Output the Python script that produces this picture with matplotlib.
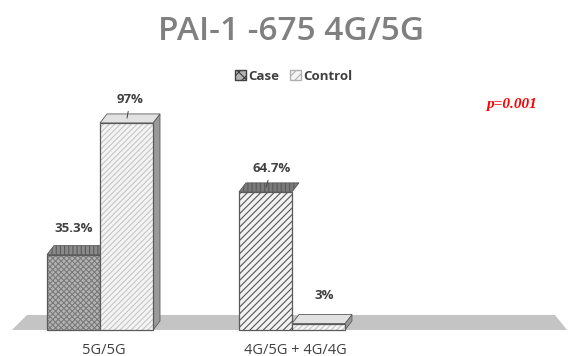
import numpy as np
import matplotlib
matplotlib.use('Agg')
import matplotlib.pyplot as plt
from matplotlib.patches import Polygon, Patch

categories = ['5G/5G', '4G/5G + 4G/4G']
case_vals = [35.3, 64.7]
control_vals = [97, 3]
case_labels = ['35.3%', '64.7%']
control_labels = ['97%', '3%']
p_text = 'p=0.001'

plt.rcParams['font.family'] = ['Open Sans', 'DejaVu Sans']
plt.rcParams['hatch.linewidth'] = 0.8

W, H = 569, 356
fig = plt.figure(figsize=(W / 100, H / 100), dpi=100)
ax = fig.add_axes([0, 0, 1, 1])
xlim = (-0.521, 2.443)
ylim = (-12.2, 154.6)
ax.set_xlim(*xlim)
ax.set_ylim(*ylim)
ax.axis('off')

# pixel -> data unit helpers for the 3d look
px_x = (xlim[1] - xlim[0]) / W
px_y = (ylim[1] - ylim[0]) / H
dx, dy = 7 * px_x, 9 * px_y

# floor
floor = Polygon([(xlim[0] + 12 * px_x, 0), (xlim[1] - 2 * px_x, 0),
                 (xlim[1] - 14 * px_x, 15 * px_y), (xlim[0] + 27 * px_x, 15 * px_y)],
                closed=True, facecolor='#c4c4c4', edgecolor='none', zorder=1)
ax.add_patch(floor)

x = np.arange(len(categories))
w = 0.276

case_styles = [
    dict(face='#b4b4b4', hatch='xxxxxx', hcol='#7a7a7a', top='#8a8a8a', thatch='||||'),
    dict(face='#f2f2f2', hatch='/////', hcol='#555555', top='#7a7a7a', thatch='||||'),
]
ctrl_style = dict(face='#f4f4f4', hatch='//////', hcol='#c6c6c6', top='#e2e2e2',
                  side='#9a9a9a', thatch=None)


def bar3d(xc, h, st, z, side=True):
    x0, x1 = xc, xc + w
    # front face: fill + hatch, then outline
    ax.bar(x0, h, w, align='edge', color=st['face'], edgecolor=st['hcol'],
           hatch=st['hatch'], linewidth=0, zorder=z)
    ax.bar(x0, h, w, align='edge', fill=False, edgecolor='#5a5a5a',
           linewidth=0.9, zorder=z + 0.1)
    top = Polygon([(x0, h), (x1, h), (x1 + dx, h + dy), (x0 + dx, h + dy)],
                  closed=True, facecolor=st['top'], edgecolor='#5a5a5a',
                  hatch=st['thatch'], linewidth=0.6, zorder=z)
    ax.add_patch(top)
    if side:
        sd = Polygon([(x1, 0), (x1 + dx, dy), (x1 + dx, h + dy), (x1, h)],
                     closed=True, facecolor=st.get('side', '#888888'),
                     edgecolor='#5a5a5a', linewidth=0.6, zorder=z - 0.2)
        ax.add_patch(sd)


for i in range(len(categories)):
    bar3d(x[i] - w, case_vals[i], case_styles[i], 3, side=False)
    bar3d(x[i], control_vals[i], ctrl_style, 4)

# value labels
lab_kw = dict(ha='center', va='bottom', fontsize=9.5, fontweight='bold', color='#404040', zorder=6)
ax.text(x[0] - w / 2, case_vals[0] + 9, case_labels[0], **lab_kw)
ax.annotate(control_labels[0], xy=(x[0] + w / 2, control_vals[0] + 1),
            xytext=(x[0] + w / 2 + 0.02, control_vals[0] + 8),
            arrowprops=dict(arrowstyle='-', color='#404040', lw=0.7), **lab_kw)
ax.annotate(case_labels[1], xy=(x[1] - w / 2, case_vals[1] + 1),
            xytext=(x[1] - w / 2 + 0.03, case_vals[1] + 8),
            arrowprops=dict(arrowstyle='-', color='#404040', lw=0.7), **lab_kw)
ax.text(x[1] + w / 2 + 0.03, control_vals[1] + 10, control_labels[1], **lab_kw)

# category labels
for xi, c in zip(x, categories):
    ax.text(xi + 0.02, -9.4, c, ha='center', va='center', fontsize=10.5, color='#404040')

fig.text(291 / W, 1 - 31 / H, 'PAI-1 -675 4G/5G', ha='center', va='center',
         fontsize=24, fontweight='semibold', color='#808080')

handles = [Patch(facecolor='#b4b4b4', edgecolor='#404040', hatch='xxx'),
           Patch(facecolor='#f4f4f4', edgecolor='#b0b0b0', hatch='////')]
fig.legend(handles, ['Case', 'Control'], loc='center', bbox_to_anchor=(294 / W, 1 - 76 / H),
           ncol=2, frameon=False, handlelength=0.8, handleheight=0.8, handletextpad=0.2,
           columnspacing=0.8, prop=dict(size=9.5, weight='bold'), labelcolor='#404040')

fig.text(511 / W, 1 - 104 / H, p_text, ha='center', va='center', fontsize=11,
         fontstyle='italic', fontweight='bold', color='red', family='Liberation Serif')

fig.savefig('out.png', dpi=100)
